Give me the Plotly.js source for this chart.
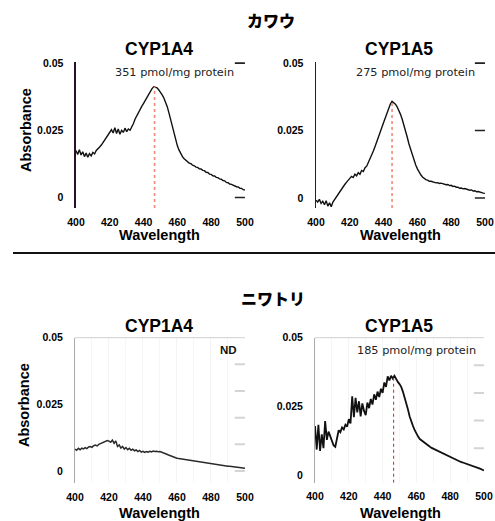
<!DOCTYPE html>
<html><head><meta charset="utf-8">
<script src="https://cdn.plot.ly/plotly-3.0.1.min.js"></script>
<style>html,body{margin:0;padding:0;background:#fff}#c{width:495px;height:521px}</style>
</head><body><div id="c"></div>
<script>
// Wavelength axis (nm), one reading per nm
var wavelength = [];
for (var w = 400; w <= 500; w++) wavelength.push(w);

var tickWavelengths = [400, 420, 440, 460, 480, 500];
var tickAbsorbance = [0, 0.025, 0.05];
var tickAbsorbanceText = ["0", "0.025", "0.05"];

var groupNames = ["カワウ", "ニワトリ"];
var isoformNames = ["CYP1A4", "CYP1A5"];
var contentLabels = ["351 pmol/mg protein", "275 pmol/mg protein", "ND", "185 pmol/mg protein"];

// カワウ CYP1A4
var cormorant1A4 = [
.0175,.0160,.0178,.0158,.0170,.0152,.0165,.0150,.0163,.0155,
.0168,.0162,.0175,.0180,.0188,.0195,.0205,.0215,.0225,.0232,
.0245,.0252,.0240,.0260,.0238,.0255,.0235,.0250,.0242,.0258,
.0245,.0255,.0250,.0262,.0275,.0292,.0305,.0318,.0330,.0340,
.0350,.0362,.0372,.0382,.0395,.0405,.0412,.0410,.0408,.0400,
.0392,.0382,.0370,.0356,.0338,.0315,.0290,.0262,.0235,.0212,
.0192,.0176,.0163,.0152,.0144,.0138,.0134,.0128,.0126,.0120,
.0118,.0113,.0112,.0107,.0106,.0101,.0100,.0094,.0093,.0087,
.0086,.0081,.0080,.0075,.0074,.0069,.0068,.0063,.0062,.0056,
.0055,.0050,.0049,.0045,.0044,.0040,.0039,.0034,.0034,.0029,.0028];

// カワウ CYP1A5
var cormorant1A5 = [
-.0008,-.0015,-.0005,-.0020,-.0012,-.0025,-.0010,-.0030,-.0018,-.0032,
-.0015,-.0005,.0005,.0015,.0025,.0035,.0042,.0050,.0058,.0066,
.0073,.0080,.0076,.0088,.0082,.0094,.0088,.0102,.0098,.0112,
.0118,.0132,.0142,.0160,.0175,.0192,.0208,.0225,.0242,.0262,
.0280,.0298,.0318,.0335,.0348,.0358,.0352,.0348,.0338,.0325,
.0310,.0292,.0272,.0250,.0225,.0200,.0178,.0158,.0140,.0122,
.0108,.0096,.0086,.0078,.0072,.0068,.0066,.0062,.0062,.0059,
.0058,.0056,.0057,.0054,.0055,.0052,.0052,.0049,.0050,.0046,
.0047,.0043,.0044,.0040,.0040,.0036,.0037,.0034,.0035,.0032,
.0032,.0029,.0030,.0026,.0027,.0023,.0024,.0021,.0021,.0018,.0017];

// ニワトリ CYP1A4
var chicken1A4 = [
.0082,.0078,.0085,.0080,.0086,.0083,.0088,.0084,.0090,.0092,
.0089,.0095,.0097,.0094,.0100,.0103,.0106,.0109,.0111,.0114,
.0112,.0108,.0116,.0104,.0113,.0092,.0098,.0086,.0092,.0082,
.0088,.0080,.0085,.0078,.0082,.0076,.0079,.0073,.0077,.0071,
.0074,.0070,.0073,.0071,.0074,.0072,.0075,.0073,.0074,.0072,
.0073,.0071,.0069,.0066,.0063,.0060,.0057,.0054,.0052,.0050,
.0048,.0047,.0046,.0044,.0043,.0042,.0041,.0040,.0039,.0038,
.0037,.0036,.0035,.0034,.0033,.0032,.0031,.0030,.0029,.0027,
.0026,.0026,.0025,.0024,.0023,.0022,.0022,.0021,.0020,.0019,
.0018,.0018,.0017,.0016,.0015,.0014,.0014,.0013,.0012,.0011,.0010];

// ニワトリ CYP1A5
var chicken1A5 = [
.0180,.0095,.0185,.0090,.0150,.0100,.0198,.0130,.0160,.0145,
.0125,.0110,.0105,.0140,.0165,.0158,.0175,.0168,.0185,.0178,
.0205,.0190,.0288,.0212,.0282,.0230,.0270,.0215,.0262,.0235,
.0220,.0265,.0245,.0278,.0258,.0295,.0275,.0305,.0285,.0315,
.0300,.0338,.0322,.0360,.0345,.0362,.0352,.0362,.0350,.0340,
.0332,.0322,.0305,.0285,.0262,.0240,.0215,.0195,.0180,.0165,
.0152,.0142,.0133,.0128,.0122,.0118,.0113,.0109,.0105,.0101,
.0098,.0094,.0091,.0088,.0084,.0081,.0078,.0075,.0072,.0069,
.0066,.0064,.0061,.0058,.0056,.0053,.0051,.0049,.0047,.0045,
.0043,.0040,.0038,.0036,.0034,.0031,.0029,.0027,.0025,.0022,.0019];

// Soret peak markers (wavelength, absorbance) – null where not detected
var peakWavelength = [446.5, 445, null, 446.5];
var peakAbsorbance = [0.0412, 0.0356, null, 0.0355];

// right-edge scale marks per panel (absorbance levels)
var rightMarks = [[0, 0.05], [0, 0.025, 0.05], [0, 0.01, 0.02, 0.03, 0.04], [0.01, 0.02, 0.03, 0.04]];

var series = [cormorant1A4, cormorant1A5, chicken1A4, chicken1A5];

var xRange = [400, 500];
var markLen = 6; // length of right-edge marks, in axis units

// panel geometry (paper fractions) and styles
var panels = [
  {x:[0.1535,0.4949], y:[0.6008,0.8815], yr:[-0.0039,0.0505], line:'#111', lw:1.4, axc:'#2a1028', rtc:'#222', peakc:'#f08a78', top:false},
  {x:[0.6384,0.9798], y:[0.6008,0.8815], yr:[-0.0037,0.0505], line:'#111', lw:1.4, axc:'#2a1a30', rtc:'#222', peakc:'#f08a78', top:false},
  {x:[0.1515,0.4949], y:[0.0724,0.3518], yr:[-0.0046,0.05], line:'#2a2a2a', lw:1.5, axc:'#aaa', rtc:'#d4d4d4', peakc:'#e03020', top:true},
  {x:[0.6364,0.9778], y:[0.0735,0.3518], yr:[-0.0025,0.05], line:'#111', lw:1.8, axc:'#aaa', rtc:'#d4d4d4', peakc:'#e03020', top:true}
];

var F = 'Liberation Sans, Arial, sans-serif';
var traces = [];
var layout = {
  width:495, height:521, margin:{l:0,r:0,t:0,b:0},
  paper_bgcolor:'#fff', plot_bgcolor:'#fff', showlegend:false,
  annotations:[], shapes:[]
};

panels.forEach(function(p, i){
  var n = i + 1, sx = n === 1 ? '' : String(n);
  // right-edge marks as line segments
  var mx = [], my = [];
  rightMarks[i].forEach(function(v){
    mx.push(xRange[1] - markLen, xRange[1], null);
    my.push(v, v, null);
  });
  traces.push({x:mx, y:my, xaxis:'x'+sx, yaxis:'y'+sx, type:'scatter', mode:'lines', cliponaxis:false,
    connectgaps:false, line:{color:p.rtc, width: p.top ? 2 : 1.6}, hoverinfo:'skip'});

  traces.push({x:wavelength, y:series[i], xaxis:'x'+sx, yaxis:'y'+sx, type:'scatter', mode:'lines',
    line:{color:p.line, width:p.lw}, hoverinfo:'skip'});
  if (peakWavelength[i] !== null) {
    traces.push({x:[peakWavelength[i], peakWavelength[i]], y:[p.yr[0], peakAbsorbance[i]],
      xaxis:'x'+sx, yaxis:'y'+sx, type:'scatter', mode:'lines',
      line:{color:p.peakc, width: i < 2 ? 1.6 : 1.1, dash:'dot'}, hoverinfo:'skip'});
  }

  layout['xaxis'+sx] = {domain:p.x, anchor:'y'+sx, range:xRange, tickvals:tickWavelengths,
    ticks:'outside', ticklen:4, tickcolor:'rgba(0,0,0,0)',
    showline:false, zeroline:false, showgrid:false,
    tickfont:{family:F, size:10.5, color:'#000', weight:'bold'}, fixedrange:true};
  if (p.top) {
    layout['xaxis'+sx].showgrid = true;
    layout['xaxis'+sx].gridcolor = '#f4f4f4';
    layout['xaxis'+sx].minor = {tickvals:[410,430,450,470,490], showgrid:true, gridcolor:'#f6f6f6'};
  }
  layout['yaxis'+sx] = {domain:p.y, anchor:'x'+sx, range:p.yr, tickvals:tickAbsorbance, ticktext:tickAbsorbanceText,
    ticks:'outside', ticklen:9, tickcolor:'rgba(0,0,0,0)',
    showline:true, linecolor:p.axc, linewidth: p.top ? 1 : 1.5, zeroline:false, showgrid:false,
    tickfont:{family:F, size:10.5, color:'#000', weight:'bold'}, fixedrange:true};
  if (p.top) {
    layout.shapes.push({type:'line', xref:'x'+sx+' domain', yref:'y'+sx+' domain', x0:0, x1:1, y0:1, y1:1,
      line:{color:'#d0d0d0', width:1}});
  }
});

function ann(text, x, y, size, opts){
  var a = {text:text, x:x, y:y, xref:'paper', yref:'paper', xanchor:'center', yanchor:'middle', showarrow:false,
    font:{family:F, size:size, color:'#000', weight:'bold'}};
  if (opts) for (var k in opts) a[k] = opts[k];
  layout.annotations.push(a);
}
var J = 'Noto Sans CJK JP, sans-serif';
ann(groupNames[0], 0.5475, 0.9616, 16, {font:{family:J, size:16, color:'#000', weight:900}});
ann(groupNames[1], 0.5515, 0.4271, 16, {font:{family:J, size:16, color:'#000', weight:900}});
ann(isoformNames[0], 0.3212, 0.9069, 17.5);
ann(isoformNames[1], 0.806, 0.9069, 17.5);
ann(isoformNames[0], 0.3212, 0.3743, 17.5);
ann(isoformNames[1], 0.806, 0.3743, 17.5);
var D = 'DejaVu Sans, sans-serif';
ann(contentLabels[0], 0.3535, 0.8608, 11.3, {font:{family:D, size:11.3, color:'#222'}});
ann(contentLabels[1], 0.8404, 0.8599, 11.3, {font:{family:D, size:11.3, color:'#222'}});
ann(contentLabels[2], 0.4616, 0.3282, 11, {font:{family:F, size:11.5, color:'#111', weight:'bold'}});
ann(contentLabels[3], 0.8414, 0.3269, 11.3, {font:{family:D, size:11.3, color:'#222'}});
ann('Absorbance', 0.0525, 0.7505, 14.5, {textangle:-90});
ann('Absorbance', 0.0485, 0.2226, 14.5, {textangle:-90});
ann('Wavelength', 0.3222, 0.549, 14.5);
ann('Wavelength', 0.810, 0.549, 14.5);
ann('Wavelength', 0.3222, 0.0163, 14.5);
ann('Wavelength', 0.810, 0.0163, 14.5);

layout.shapes.push({type:'line', xref:'paper', yref:'paper', x0:0.0263, x1:1, y0:0.5144, y1:0.5144,
  line:{color:'#111', width:2.2}});

Plotly.newPlot('c', traces, layout, {staticPlot:true, displayModeBar:false});
</script></body></html>
